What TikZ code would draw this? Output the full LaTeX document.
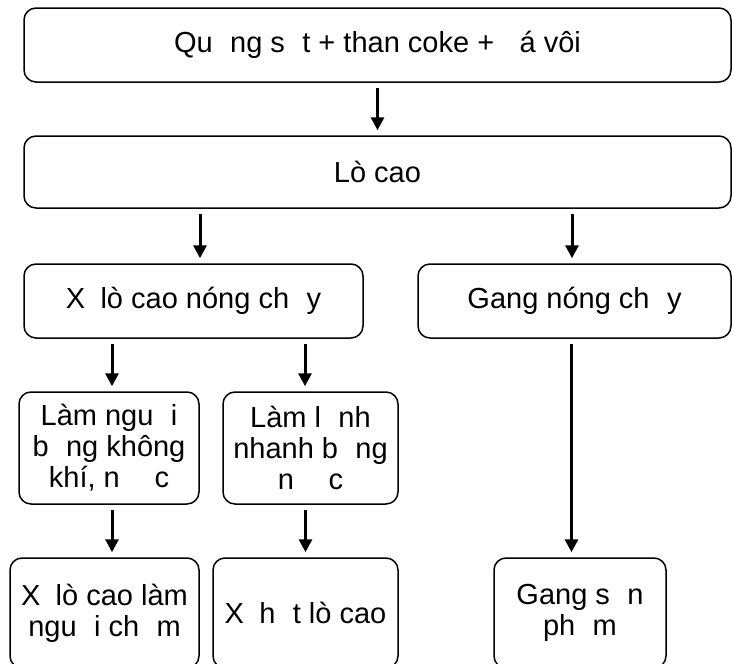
\documentclass[tikz,border=0pt]{standalone}
\usepackage{fontspec}
\setmainfont{Liberation Sans}
\usetikzlibrary{arrows.meta,positioning,calc}
\newcommand{\gp}{\hspace{0.6em}}
\newcommand{\gpi}{\hspace{0.25em}}
\tikzset{
  box/.style={rounded corners=12pt,draw=black,line width=1.5pt,fill=white,
              inner sep=0pt,align=center,font=\fontsize{29}{31}\selectfont},
  arr/.style={-{Triangle[length=13pt,width=13pt]},line width=3pt,
              shorten <=5pt,shorten >=5pt},
}

\begin{document}
\begin{tikzpicture}[x=1pt,y=-1pt]
  \clip (0,0) rectangle (732,664);
  % top rows
  \node[box,minimum width=707pt,minimum height=74pt](ore) at (377.5,45)
     {Qu\gp{}ng s\gp{}t + than coke + \gp{}á vôi};
  \node[box,minimum width=707pt,minimum height=72pt](furn) at (377.5,172) {Lò cao};
  \node[box,minimum width=339pt,minimum height=74pt](slag) at (193.5,301)
     {X\gpi{} lò cao nóng ch\gp{}y};
  \node[box,minimum width=313pt,minimum height=74pt](iron) at (574.5,301)
     {Gang nóng ch\gp{}y};
  % cooling
  \node[box,minimum width=180pt,minimum height=112pt](air) at (109,448)
     {Làm ngu\gp{}i\\b\gp{}ng không\\khí, n\gp\gp{}c};
  \node[box,minimum width=175pt,minimum height=112pt](water) at (310.5,448)
     {Làm l\gp{}nh\\nhanh b\gp{}ng\\n\gp\gp{}c};
  % products
  \node[box,minimum width=189pt,minimum height=110pt](slow) at (104.5,613)
     {X\gpi{} lò cao làm\\ngu\gp{}i ch\gp{}m};
  \node[box,minimum width=185pt,minimum height=110pt](gran) at (305.5,613)
     {X\gpi{} h\gp{}t lò cao};
  \node[box,minimum width=172pt,minimum height=110pt](pig) at (580,613)
     {Gang s\gp{}n\\ph\gp{}m};

  \draw[arr] (ore) -- (furn);
  \draw[arr] ([xshift=6.5pt]slag.north |- furn.south) -- ([xshift=6.5pt]slag.north);
  \draw[arr] ([xshift=-2.5pt]iron.north |- furn.south) -- ([xshift=-2.5pt]iron.north);
  \draw[arr] ([xshift=3pt]air.north |- slag.south) -- ([xshift=3pt]air.north);
  \draw[arr] ([xshift=-5.5pt]water.north |- slag.south) -- ([xshift=-5.5pt]water.north);
  \draw[arr] ([xshift=7.5pt]slow.north |- air.south) -- ([xshift=7.5pt]slow.north);
  \draw[arr] (gran.north |- water.south) -- (gran.north);
  \draw[arr] ([xshift=-3pt]iron.south) -- ([xshift=-3pt]iron.south |- pig.north);
\end{tikzpicture}
\end{document}
